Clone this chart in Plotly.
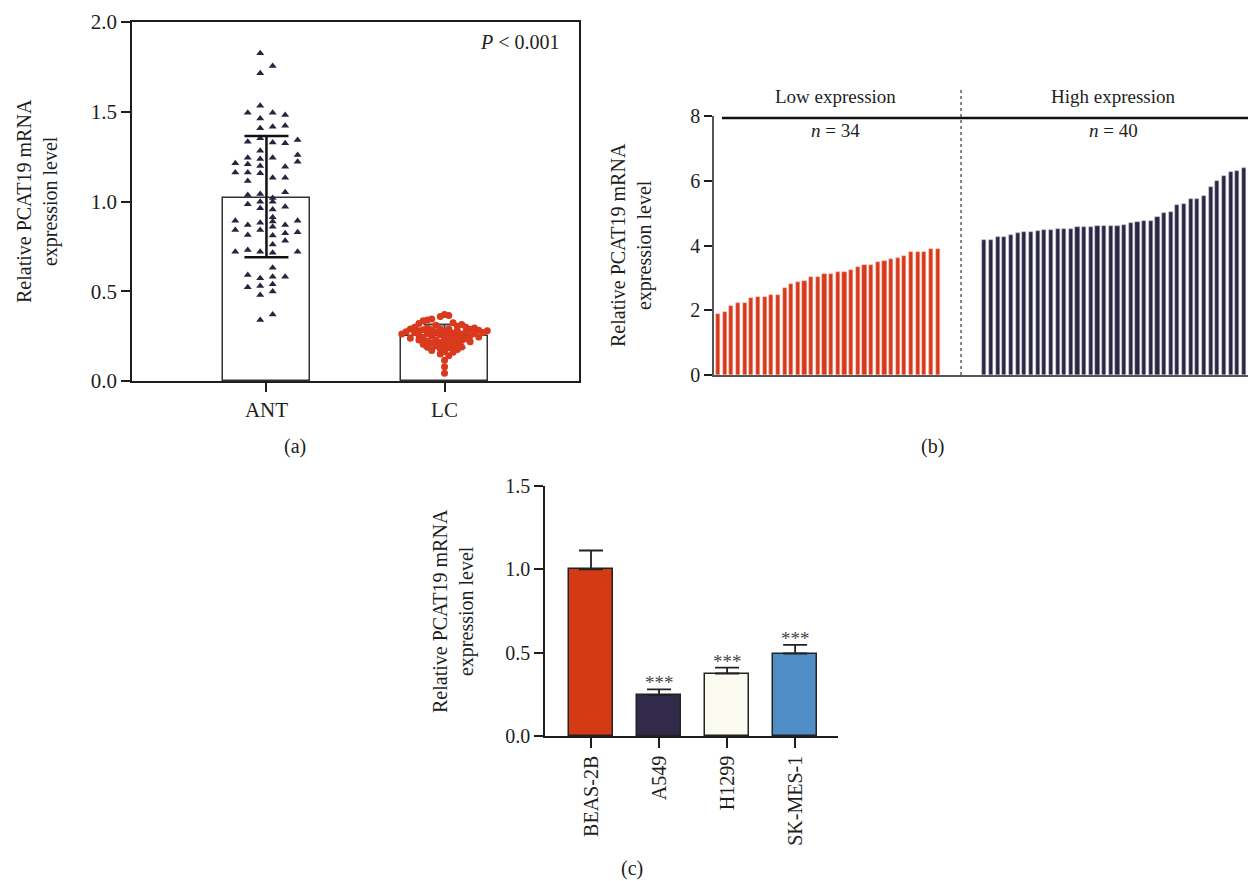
import plotly.graph_objects as go

FONT = "Liberation Serif"
INK = "#1e1e1e"

# ---------------- Panel (a) data ----------------
groups_a = ["ANT", "LC"]
means_a = [1.02, 0.25]
err_up_a = [0.345, 0.065]
err_dn_a = [0.33, 0.065]

ant_vals = [1.826, 1.755, 1.714, 1.534, 1.495, 1.495, 1.482, 1.463, 1.408, 1.417, 1.422,
            1.352, 1.333, 1.328, 1.324, 1.343, 1.283, 1.244, 1.237, 1.244, 1.259,
            1.213, 1.207, 1.198, 1.194, 1.222, 1.162, 1.162, 1.157, 1.133, 1.133, 1.114,
            1.036, 1.042, 1.051, 1.020, 0.984, 0.999, 0.999, 0.971, 0.962, 0.956, 0.912,
            0.893, 0.869, 0.882, 0.888, 0.869, 0.893, 0.841, 0.841, 0.860, 0.823, 0.828,
            0.813, 0.811, 0.782, 0.761, 0.720, 0.730, 0.720, 0.715, 0.720, 0.631,
            0.590, 0.572, 0.581, 0.581, 0.522, 0.529, 0.539, 0.479, 0.498, 0.340, 0.371]
ant_slot = [2, 3, 2, 2, 1, 3, 4, 2, 2, 3, 4,
            2, 1, 3, 4, 5, 2, 1, 2, 3, 5,
            0, 1, 2, 4, 5, 0, 1, 2, 3, 4, 1,
            1, 2, 4, 3, 1, 2, 3, 4, 2, 3, 3,
            0, 1, 2, 3, 4, 5, 0, 2, 3, 4, 5,
            1, 3, 4, 3, 0, 1, 2, 3, 5, 3,
            1, 2, 3, 4, 1, 2, 3, 2, 3, 2, 3]

lc_vals = [0.370, 0.365, 0.360, 0.345, 0.340, 0.335, 0.325, 0.320, 0.315, 0.310, 0.305,
           0.300, 0.300, 0.295, 0.295, 0.290, 0.290, 0.290, 0.288, 0.285, 0.285, 0.283,
           0.280, 0.280, 0.280, 0.278, 0.275, 0.275, 0.272, 0.270, 0.270, 0.268, 0.265,
           0.265, 0.262, 0.260, 0.258, 0.255, 0.255, 0.252, 0.250, 0.248, 0.245, 0.242,
           0.240, 0.238, 0.235, 0.232, 0.230, 0.228, 0.225, 0.222, 0.220, 0.218, 0.215,
           0.212, 0.210, 0.205, 0.200, 0.198, 0.195, 0.190, 0.188, 0.185, 0.180, 0.175,
           0.170, 0.165, 0.160, 0.150, 0.140, 0.115, 0.080, 0.043]
lc_slot = [0, 1, -1, -3, -4, -5, 2, -6, 4, -2, 3,
           -7, 5, -4, 7, -8, -1, 1, 6, -5, -3, 8,
           -6, 3, 10, 0, -9, 5, -2, 9, -7, 2, -4,
           7, -10, 4, -1, -6, 1, 6, -3, 3, 8, -5,
           0, -8, 5, 2, -2, -6, 4, -4, 1, 6, -1,
           3, -3, -5, 0, 2, -2, 4, -4, 1, -1, 3,
           -3, 0, 2, -1, 1, 0, 0, 0]

# ---------------- Panel (b) data ----------------
low_vals = [1.87, 1.95, 2.14, 2.21, 2.23, 2.39, 2.41, 2.42, 2.46, 2.47, 2.68, 2.82,
            2.88, 2.91, 3.02, 3.03, 3.11, 3.11, 3.17, 3.19, 3.24, 3.33, 3.39, 3.39,
            3.48, 3.51, 3.58, 3.60, 3.68, 3.79, 3.79, 3.80, 3.88, 3.89]
high_vals = [4.16, 4.16, 4.26, 4.27, 4.33, 4.38, 4.43, 4.43, 4.46, 4.48, 4.48, 4.50,
             4.51, 4.52, 4.56, 4.56, 4.56, 4.60, 4.60, 4.60, 4.60, 4.63, 4.69, 4.74,
             4.75, 4.76, 4.89, 5.00, 5.02, 5.24, 5.28, 5.45, 5.45, 5.53, 5.82, 6.00,
             6.15, 6.28, 6.31, 6.40]
gap_b = 6  # empty sample slots between the two groups

# ---------------- Panel (c) data ----------------
cells = ["BEAS-2B", "A549", "H1299", "SK-MES-1"]
cell_vals = [1.0, 0.245, 0.375, 0.495]
cell_err = [0.113, 0.035, 0.035, 0.052]
cell_colors = ["#d43a14", "#322a4a", "#fbfbf1", "#4f8dc6"]
cell_sig = ["", "***", "***", "***"]

fig = go.Figure()

# ===== Panel (a) =====
fig.add_trace(go.Bar(x=[0, 1], y=means_a, width=0.49,
                     marker=dict(color="white", line=dict(color="#333", width=1.5)),
                     xaxis="x", yaxis="y", showlegend=False, hoverinfo="skip"))
fig.add_trace(go.Scatter(x=[1], y=[means_a[1]], mode="markers", marker=dict(size=0.1, color="rgba(0,0,0,0)"),
                         error_y=dict(type="data", symmetric=False, array=[err_up_a[1]], arrayminus=[err_dn_a[1]],
                                      color="#444", thickness=2, width=21),
                         xaxis="x", yaxis="y", showlegend=False, hoverinfo="skip"))
fig.add_trace(go.Scatter(x=[1 + s * 0.024 for s in lc_slot], y=lc_vals, mode="markers",
                         marker=dict(symbol="circle", size=7, color="#d9391c"),
                         xaxis="x", yaxis="y", showlegend=False))
fig.add_trace(go.Scatter(x=[(s - 2.5) * 0.07 for s in ant_slot], y=ant_vals, mode="markers",
                         marker=dict(symbol="triangle-up", size=7, color="#27243f"),
                         xaxis="x", yaxis="y", showlegend=False))
fig.add_trace(go.Scatter(x=[0], y=[means_a[0]], mode="markers", marker=dict(size=0.1, color="rgba(0,0,0,0)"),
                         error_y=dict(type="data", symmetric=False, array=[err_up_a[0]], arrayminus=[err_dn_a[0]],
                                      color="#111", thickness=2.5, width=22),
                         xaxis="x", yaxis="y", showlegend=False, hoverinfo="skip"))

# ===== Panel (b) =====
x_low = list(range(1, len(low_vals) + 1))
x_high = list(range(len(low_vals) + gap_b + 1, len(low_vals) + gap_b + 1 + len(high_vals)))
fig.add_trace(go.Bar(x=x_low, y=low_vals, width=0.62,
                     marker=dict(color="#d9381a", line=dict(color="#f2b7a8", width=0.5)),
                     xaxis="x2", yaxis="y2", showlegend=False))
fig.add_trace(go.Bar(x=x_high, y=high_vals, width=0.62,
                     marker=dict(color="#2a2745", line=dict(color="#b9b6c8", width=0.5)),
                     xaxis="x2", yaxis="y2", showlegend=False))

# ===== Panel (c) =====
fig.add_trace(go.Bar(x=list(range(len(cells))), y=cell_vals, width=0.65,
                     marker=dict(color=cell_colors, line=dict(color="#222", width=1.5)),
                     error_y=dict(type="data", symmetric=False, array=cell_err, arrayminus=[0] * len(cells),
                                  color="#222", thickness=1.8, width=12),
                     xaxis="x3", yaxis="y3", showlegend=False))

W, H = 1248, 881
def px(x):
    return x / W
def py(y):
    return 1 - y / H

axis_common = dict(showgrid=False, zeroline=False, showline=True, linecolor=INK, linewidth=1.5,
                   ticks="outside", tickcolor=INK, tickwidth=1.5,
                   tickfont=dict(family=FONT, size=20, color=INK))

annotations = []
shapes = []

def note(text, x, y, size=20, angle=0, xanchor="center", color=INK):
    annotations.append(dict(text=text, xref="paper", yref="paper", x=px(x), y=py(y),
                            xanchor=xanchor, yanchor="middle", textangle=angle, showarrow=False,
                            font=dict(family=FONT, size=size, color=color)))

# Panel a
note("Relative PCAT19 mRNA<br>expression level", 37, 201, angle=-90)
note("<i>P</i> < 0.001", 562, 42, xanchor="right")
note("(a)", 295, 447)
# Panel b
note("Relative PCAT19 mRNA<br>expression level", 631, 245, angle=-90)
note("Low expression", 836, 96, size=19)
note("High expression", 1113, 96, size=19)
note("<i>n</i> = %d" % len(low_vals), 836, 131, size=19)
note("<i>n</i> = %d" % len(high_vals), 1113, 131, size=19)
note("(b)", 932, 447)
# Panel c
note("Relative PCAT19 mRNA<br>expression level", 453, 611, angle=-90)
for i, s in enumerate(cell_sig):
    if s:
        annotations.append(dict(text=s, xref="x3", yref="y3", x=i, y=cell_vals[i] + cell_err[i],
                                xanchor="center", yanchor="bottom", yshift=-6, showarrow=False,
                                font=dict(family=FONT, size=19, color="#444")))
note("(c)", 632, 868)

# panel b header line and dotted separator
sep_x = len(low_vals) + (gap_b + 1) / 2
shapes.append(dict(type="line", xref="x2", yref="y2", x0=1.6, x1=80.6, y0=7.94, y1=7.94,
                   line=dict(color="#111", width=2.5)))
shapes.append(dict(type="line", xref="x2", yref="paper", x0=sep_x, x1=sep_x, y0=py(375), y1=py(88),
                   line=dict(color="#444", width=1.3, dash="dot")))

fig.update_layout(
    width=W, height=H, margin=dict(l=0, r=0, t=0, b=0, autoexpand=False),
    paper_bgcolor="white", plot_bgcolor="white", bargap=0,
    font=dict(family=FONT, color=INK),
    xaxis=dict(axis_common, domain=[px(132), px(579)], range=[-0.755, 1.755], anchor="y",
               tickvals=[0, 1], ticktext=groups_a, ticklen=9, mirror=True,
               tickfont=dict(family=FONT, size=21, color=INK)),
    yaxis=dict(axis_common, domain=[py(381), py(22)], range=[0, 2.0], anchor="x",
               dtick=0.5, tickformat=".1f", ticklen=9, mirror=True,
               tickfont=dict(family=FONT, size=21, color=INK)),
    xaxis2=dict(showgrid=False, zeroline=False, showline=True, linecolor="#555", linewidth=2,
                domain=[px(714), 1.0], range=[0.4, 80.6], anchor="y2",
                showticklabels=False, ticks=""),
    yaxis2=dict(axis_common, domain=[py(375), py(116)], range=[0, 8], anchor="x2",
                dtick=2, ticklen=8, linecolor="#555", tickwidth=2),
    xaxis3=dict(axis_common, domain=[px(545), px(838)], range=[-0.676, 3.63], anchor="y3",
                tickvals=list(range(len(cells))), ticktext=cells, tickangle=-90, ticklen=10),
    yaxis3=dict(axis_common, domain=[py(736), py(486)], range=[0, 1.5], anchor="x3",
                dtick=0.5, tickformat=".1f", ticklen=9),
    annotations=annotations,
    shapes=shapes,
)

fig.write_html("out.html",
               config={"displayModeBar": False},
               post_script="document.body.style.margin='0';document.body.style.overflow='hidden';")
